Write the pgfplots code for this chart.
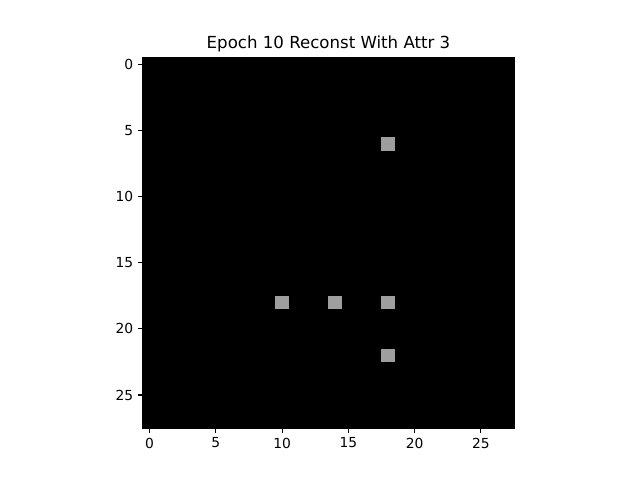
\documentclass[border=0pt]{standalone}
\usepackage{pgfplots}
\pgfplotsset{compat=1.18}
\usepackage{fontspec}
\setmainfont{DejaVu Sans}
\definecolor{cellgray}{RGB}{158,158,158}
\begin{document}
\begin{tikzpicture}
\useasboundingbox (-102.96bp,-37.44bp) rectangle (357.84bp,308.16bp);
\begin{axis}[
  at={(0,0)}, anchor=south west,
  scale only axis, width=267.12bp, height=266.4bp,
  xmin=-0.5, xmax=27.5, ymin=-0.5, ymax=27.5,
  y dir=reverse,
  axis background/.style={fill=black},
  xtick={0,5,10,15,20,25}, ytick={0,5,10,15,20,25},
  tick align=outside, tick pos=left,
  major tick length=3.5pt,
  tick style={black, line width=0.8pt},
  axis line style={line width=0.8pt},
  ticklabel style={font=\fontsize{10}{12}\selectfont},
  /pgf/number format/assume math mode=true,
  title={Epoch 10 Reconst With Attr 3},
  title style={font=\fontsize{12}{14}\selectfont, yshift=-5.5pt},
]
\addplot[fill=cellgray, draw=none] coordinates {(17.5,5.5) (18.5,5.5) (18.5,6.5) (17.5,6.5)} -- cycle;
\addplot[fill=cellgray, draw=none] coordinates {(9.5,17.5) (10.5,17.5) (10.5,18.5) (9.5,18.5)} -- cycle;
\addplot[fill=cellgray, draw=none] coordinates {(13.5,17.5) (14.5,17.5) (14.5,18.5) (13.5,18.5)} -- cycle;
\addplot[fill=cellgray, draw=none] coordinates {(17.5,17.5) (18.5,17.5) (18.5,18.5) (17.5,18.5)} -- cycle;
\addplot[fill=cellgray, draw=none] coordinates {(17.5,21.5) (18.5,21.5) (18.5,22.5) (17.5,22.5)} -- cycle;
\end{axis}
\end{tikzpicture}
\end{document}
